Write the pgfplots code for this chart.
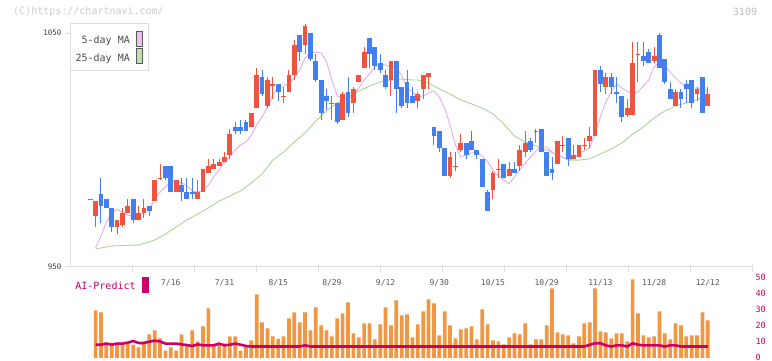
\documentclass[border=0pt]{standalone}
\usepackage{pgfplots}
\pgfplotsset{compat=1.18}
\usepackage{pgfplotstable}
\usepackage{fontspec}
\setmainfont{DejaVu Sans Mono}
\definecolor{upc}{RGB}{242,82,64}
\definecolor{dnc}{RGB}{66,128,242}
\definecolor{volc}{RGB}{241,150,66}
\definecolor{aic}{RGB}{204,0,102}
\definecolor{ma5c}{RGB}{232,170,232}
\definecolor{ma25c}{RGB}{170,214,150}
\definecolor{gridc}{RGB}{221,221,221}

\pgfplotstableread{
i o h l c
-1 979 979 979 979
0 972 978 967 978
4 967 970 964 970
5 968 975 967 973
6 973 979 973 976
8 970 976 970 973
9 973 979 971 975
11 978 987 978 987
12 988 994 987 988
15 982 987 982 987
19 979 987 979 982
20 982 992 982 992
21 990 996 990 993
22 992 996 992 994
23 993 996 993 995
24 995 999 995 997
25 998 1009 996 1007
29 1010 1016 1010 1016
30 1018 1035 1018 1032
32 1019 1031 1018 1030
33 1028 1031 1022 1028
35 1023 1027 1020 1023
36 1025 1034 1025 1032
37 1032 1047 1030 1045
39 1045 1054 1041 1053
44 1020 1023 1013 1020
46 1013 1025 1013 1024
48 1020 1027 1016 1026
49 1029 1032 1029 1032
50 1035 1044 1035 1042
55 1030 1038 1023 1038
60 1021 1025 1018 1024
61 1026 1032 1022 1032
62 1031 1033 1026 1033
66 989 999 988 997
67 993 999 991 993
68 1000 1007 999 1003
74 983 991 979 990
75 992 996 988 992
77 989 995 989 992
79 993 1002 991 1000
80 999 1008 997 1003
82 1008 1009 1003 1008
86 994 1004 994 1004
87 1002 1006 999 1002
89 996 1002 996 998
90 997 1002 997 1002
91 1002 1005 1000 1002
92 1004 1010 1001 1006
93 1006 1034 1006 1034
95 1027 1033 1024 1031
99 1015 1022 1014 1018
100 1015 1046 1015 1037
101 1041 1046 1029 1041
104 1038 1044 1037 1040
108 1019 1026 1019 1025
112 1024 1027 1021 1026
114 1019 1027 1019 1024
}\up

\pgfplotstableread{
i o h l c
1 981 988 969 976
2 979 979 975 975
3 975 975 965 967
7 979 979 969 970
10 976 976 972 974
13 993 993 987 988
14 993 993 982 982
16 985 988 978 982
17 982 988 979 979
18 982 988 979 981
26 1010 1012 1007 1008
27 1010 1013 1007 1008
28 1012 1013 1008 1008
31 1031 1034 1023 1024
34 1028 1028 1021 1025
38 1049 1049 1038 1042
40 1050 1050 1038 1039
41 1038 1041 1029 1030
42 1030 1030 1013 1016
43 1023 1026 1017 1021
45 1020 1020 1011 1012
47 1025 1031 1014 1016
51 1048 1048 1035 1041
52 1044 1044 1034 1036
53 1037 1041 1033 1034
54 1032 1034 1026 1027
56 1038 1038 1016 1026
57 1027 1027 1018 1019
58 1029 1034 1018 1020
59 1023 1027 1020 1020
63 1010 1010 1002 1006
64 1008 1008 999 1001
65 1001 1001 989 989
69 1003 1003 996 998
70 1004 1008 1000 1000
71 1000 1000 996 998
72 996 996 984 984
73 982 983 974 974
76 994 994 988 988
78 992 995 990 990
81 1004 1005 999 1000
83 1009 1009 999 999
84 999 999 989 989
85 992 997 987 990
88 1005 1005 993 996
94 1034 1036 1025 1028
96 1031 1033 1024 1027
97 1025 1031 1020 1024
98 1023 1023 1012 1014
102 1040 1046 1036 1038
103 1042 1043 1037 1037
105 1049 1050 1035 1035
106 1039 1039 1028 1029
107 1026 1029 1022 1022
109 1025 1026 1018 1022
110 1028 1030 1020 1026
111 1030 1030 1018 1020
113 1031 1031 1016 1016
}\dn

\pgfplotstableread{
i m
0 958.1
1 963.2
2 969.1
3 973.0
4 974.8
5 973.1
6 972.2
7 971.8
8 972.2
9 973.1
10 974.4
11 979.1
12 982.0
13 984.2
14 986.3
15 986.3
16 986.1
17 984.6
18 982.5
19 982.0
20 982.9
21 985.0
22 988.5
23 991.5
24 994.9
25 997.0
26 1000.0
27 1002.1
28 1003.4
29 1006.4
30 1010.7
31 1014.1
32 1018.4
33 1023.5
34 1026.5
35 1027.3
36 1028.6
37 1030.8
38 1034.2
39 1039.3
40 1041.5
41 1041.9
42 1041.5
43 1037.6
44 1029.9
45 1023.1
46 1022.2
47 1022.2
48 1023.1
49 1026.5
50 1029.9
51 1032.5
52 1035.5
53 1036.8
54 1036.3
55 1035.5
56 1035.0
57 1032.0
58 1026.5
59 1024.8
60 1022.6
61 1023.1
62 1024.4
63 1025.2
64 1022.6
65 1018.0
66 1010.7
67 1002.1
68 997.0
69 997.9
70 998.7
71 999.1
72 997.4
73 994.9
74 991.5
75 988.9
76 987.2
77 985.5
78 988.5
79 991.5
80 994.4
81 997.0
82 999.6
83 1001.3
84 1001.3
85 999.1
86 997.9
87 997.0
88 995.7
89 996.2
90 998.7
91 999.6
92 1000.9
93 1006.8
94 1014.1
95 1020.5
96 1024.8
97 1028.2
98 1026.5
99 1025.2
100 1023.9
101 1024.8
102 1027.3
103 1029.9
104 1035.5
105 1037.2
106 1035.9
107 1033.3
108 1030.8
109 1028.6
110 1027.3
111 1026.5
112 1026.5
113 1026.1
114 1024.8
}\mafive

\pgfplotstableread{
i m
0 957.7
3 959.0
8 959.4
11 961.5
13 964.1
15 967.1
17 970.1
19 972.6
21 975.2
23 978.2
25 980.3
27 982.5
29 985.9
31 989.7
33 995.7
35 999.1
37 1003.4
39 1007.3
41 1012.4
43 1016.7
45 1020.1
47 1022.6
49 1025.2
51 1027.3
53 1029.1
55 1029.9
57 1030.3
59 1029.9
60 1029.9
62 1028.6
64 1026.1
66 1023.9
68 1021.4
70 1019.7
72 1017.9
74 1015.4
76 1011.1
78 1006.0
80 1003.4
82 1001.7
84 1000.0
86 997.9
88 995.7
90 995.7
92 996.2
94 998.3
96 1000.4
98 1003.0
100 1006.8
102 1009.8
104 1013.7
106 1016.7
108 1018.8
110 1020.1
112 1021.4
114 1024.4
}\matwentyfive

\pgfplotstableread{
i v
0 29.8
1 28.5
2 9.6
3 9.6
4 9.6
5 9.6
6 9.6
7 8.3
8 6.7
9 9.6
10 14.8
11 17.3
12 12.3
13 4.6
14 6.7
15 4.6
16 14.8
17 7.9
18 17.3
19 10.4
20 19.8
21 31.0
22 7.9
23 8.3
24 9.0
25 13.5
26 13.5
27 4.6
28 6.9
29 11.0
30 39.8
31 22.3
32 18.5
33 13.5
34 11.9
35 13.5
36 24.8
37 28.5
38 22.3
39 28.5
40 17.3
41 31.7
42 20.4
43 17.3
44 13.5
45 24.8
46 27.9
47 34.8
48 15.4
49 12.9
50 21.7
51 21.7
52 11.7
53 21.0
54 31.7
55 20.4
56 36.0
57 26.7
58 27.3
59 12.9
60 21.0
61 29.2
62 36.7
63 34.2
64 14.2
65 29.2
66 20.4
67 12.3
68 17.9
69 18.5
70 19.8
71 11.7
72 30.4
73 21.0
74 11.0
75 10.4
76 8.5
77 12.9
78 15.4
79 14.8
80 21.7
81 8.5
82 11.7
83 11.7
84 20.4
85 43.5
86 16.0
87 14.8
88 14.2
89 9.2
90 13.5
91 21.7
92 22.3
93 43.5
94 16.7
95 16.0
96 12.3
97 15.4
98 15.4
99 10.4
100 49.2
101 27.9
102 14.2
103 12.9
104 13.5
105 29.2
106 15.4
107 11.7
108 21.7
109 20.4
110 13.5
111 14.2
112 14.2
113 28.5
114 23.5
}\vol

\pgfplotstableread{
i a
0 8.3
1 8.3
2 9.0
3 8.3
4 9.0
5 9.0
6 9.6
7 10.6
8 9.4
9 9.4
10 10.2
11 10.8
12 10.4
13 9.0
14 9.0
15 9.0
16 8.5
17 8.1
18 7.5
19 8.5
20 7.9
21 7.9
22 7.9
23 9.0
24 7.9
25 8.3
26 9.0
27 8.3
28 7.5
29 7.2
38 7.2
39 7.9
40 7.2
91 7.2
92 8.2
93 9.2
94 9.2
95 7.9
96 7.2
97 7.9
98 7.9
99 7.2
100 9.2
101 8.3
102 7.9
103 7.9
104 7.9
105 7.9
106 7.2
107 7.9
108 7.9
109 7.2
114 7.2
}\ai

\pgfplotsset{
  wick/.style={draw=none, mark=none, forget plot,
    error bars/.cd, y dir=both, y explicit, error mark=none, error bar style={line width=1pt, draw=#1}},
  body/.style={draw=none, mark=none, forget plot,
    error bars/.cd, y dir=both, y explicit, error mark=none, error bar style={line width=4.8pt, draw=#1}},
}

\begin{document}
\begin{tikzpicture}[x=1pt,y=1pt]
\fill[white] (0,0) rectangle (772,361);
\useasboundingbox (0,0) rectangle (772,361);

\begin{axis}[
  at={(70pt,94pt)}, anchor=south west, scale only axis,
  width=682pt, height=247pt,
  xmin=-4.767, xmax=122.23, ymin=950, ymax=1055.56,
  axis line style={draw=none},
  ytick={950,1050}, yticklabels={950,1050},
  tick pos=left, tick align=outside, major tick length=5pt,
  ytick style={draw=gridc, line width=1pt},
  yticklabel style={font=\fontsize{7.5}{8}\selectfont, text=black!75},
  xtick={14,24,...,114},
  xticklabels={7/16,7/31,8/15,8/29,9/12,9/30,10/15,10/29,11/13,11/28,12/12},
  xtick style={draw=none},
  xticklabel style={font=\fontsize{8}{9}\selectfont, text=black!65, yshift=-4pt},
  clip=false,
]
\addplot[color=ma25c, line width=0.9pt] table[x=i,y=m] {\matwentyfive};
\addplot[color=ma5c, line width=0.9pt] table[x=i,y=m] {\mafive};
\addplot[wick=upc] table[x=i, y=c, y error plus expr=\thisrow{h}-\thisrow{c}, y error minus expr=\thisrow{c}-\thisrow{l}] {\up};
\addplot[body=upc] table[x=i, y=c, y error plus expr=0, y error minus expr={max(\thisrow{c}-\thisrow{o},0.45)}] {\up};
\addplot[wick=dnc] table[x=i, y=c, y error plus expr=\thisrow{h}-\thisrow{c}, y error minus expr=\thisrow{c}-\thisrow{l}] {\dn};
\addplot[body=dnc] table[x=i, y=c, y error plus expr={max(\thisrow{o}-\thisrow{c},0.45)}, y error minus expr=0] {\dn};
\end{axis}

\begin{axis}[
  at={(70pt,3pt)}, anchor=south west, scale only axis,
  width=682pt, height=80pt,
  xmin=-4.767, xmax=122.23, ymin=0, ymax=50,
  axis line style={draw=none}, xtick=\empty,
  ytick={0,10,...,50}, yticklabel pos=right, ytick style={draw=none},
  yticklabel style={font=\fontsize{8.5}{9}\selectfont, text=aic, anchor=west, yshift=0.8pt},
  /pgf/number format/assume math mode=true,
  clip=false,
]
\addplot[ybar, bar width=3.7pt, fill=volc, draw=none] table[x=i,y=v] {\vol};
\addplot[sharp plot, color=aic, line width=2.6pt] table[x=i,y=a] {\ai};
\end{axis}

% axis frame lines
\draw[gridc, line width=1pt] (70,94) -- (70,337);
\draw[gridc, line width=1pt] (70,94) -- (752,94);
\foreach \xx in {132,194,256,318,380,442,504,566,628,690,752}
  \draw[gridc, line width=1pt] (\xx,89) -- (\xx,96);

% legend
\draw[gridc, line width=1pt, fill=white] (70,337) rectangle (148,290);
\node[anchor=base east, font=\fontsize{10}{12}\selectfont, text=black!70, inner sep=0pt] at (130,317) {5-day MA};
\node[anchor=base east, font=\fontsize{10}{12}\selectfont, text=black!70, inner sep=0pt] at (130,299.3) {25-day MA};
\draw[black!65, line width=0.8pt, fill={rgb,255:red,240;green,192;blue,240}] (136,330) rectangle (142.7,314.3);
\draw[black!65, line width=0.8pt, fill={rgb,255:red,192;green,224;blue,176}] (136,312.7) rectangle (142.7,297.7);

% header texts
\node[font=\fontsize{10}{12}\selectfont, text=black!20] at (88.5,349) {(C)https://chartnavi.com/};
\node[font=\fontsize{10}{12}\selectfont, text=black!27] at (745,349) {3109};

% AI-Predict label
\node[font=\fontsize{10}{12}\selectfont, text=aic] at (105.5,75) {AI-Predict};
\fill[aic] (142,84) rectangle (149,68);
\end{tikzpicture}
\end{document}
